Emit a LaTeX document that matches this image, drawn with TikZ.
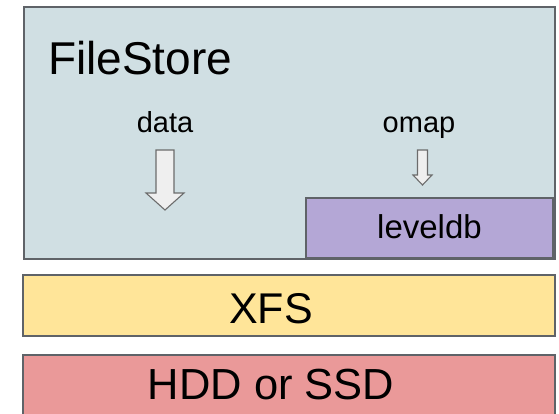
\documentclass[tikz,border=0pt]{standalone}
\usepackage{fontspec}
\setmainfont{Liberation Sans}
\definecolor{fsfill}{HTML}{D0DFE3}
\definecolor{ldbfill}{HTML}{B4A7D6}
\definecolor{xfsfill}{HTML}{FFE599}
\definecolor{hddfill}{HTML}{EA9999}
\definecolor{edge}{HTML}{5F6368}
\definecolor{arrfill}{HTML}{EFEFEF}
\tikzset{
  layer/.style={draw=edge, line width=1.2pt, inner sep=0pt, outer sep=0pt},
  lbl/.style={anchor=base, inner sep=0pt, text=black},
  fatarrow/.style={draw=gray!85!black, line width=1.1pt, fill=arrfill, line join=miter}
}
\begin{document}
\begin{tikzpicture}[x=1pt, y=-1pt]
\useasboundingbox (0,0) rectangle (559,413);
\clip (0,0) rectangle (559,413);
% layers
\node[layer, fill=fsfill, minimum width=531pt, minimum height=252pt] (fs) at (289.5,133) {};
\node[layer, fill=ldbfill, minimum width=247pt, minimum height=60pt] (ldb) at (429.5,228) {};
\node[layer, fill=xfsfill, minimum width=532pt, minimum height=61pt] (xfs) at (289,305.5) {};
\node[layer, fill=hddfill, minimum width=532pt, minimum height=80pt] (hdd) at (289,395) {};
% texts
\node[lbl, anchor=base west, font=\fontsize{46}{46}\selectfont] (fst) at (48,74) {FileStore};
\node[lbl, font=\fontsize{29}{29}\selectfont] (data) at (165,132) {data};
\node[lbl, font=\fontsize{29}{29}\selectfont] (omap) at (419,132) {omap};
\node[lbl, font=\fontsize{33}{33}\selectfont] (ldbt) at (429.5,238) {leveldb};
\node[lbl, font=\fontsize{43}{43}\selectfont] (xfst) at (271,323) {XFS};
\node[lbl, font=\fontsize{43.5}{43.5}\selectfont] (hddt) at (271,399) {HDD or SSD};
% block arrows
\draw[fatarrow] (156,150) -- (174,150) -- (174,193) -- (184,193) -- (165,210) -- (146,193) -- (156,193) -- cycle;
\draw[fatarrow] (417.5,150) -- (427.5,150) -- (427.5,175) -- (432,175) -- (422.5,185) -- (413,175) -- (417.5,175) -- cycle;
\end{tikzpicture}
\end{document}
